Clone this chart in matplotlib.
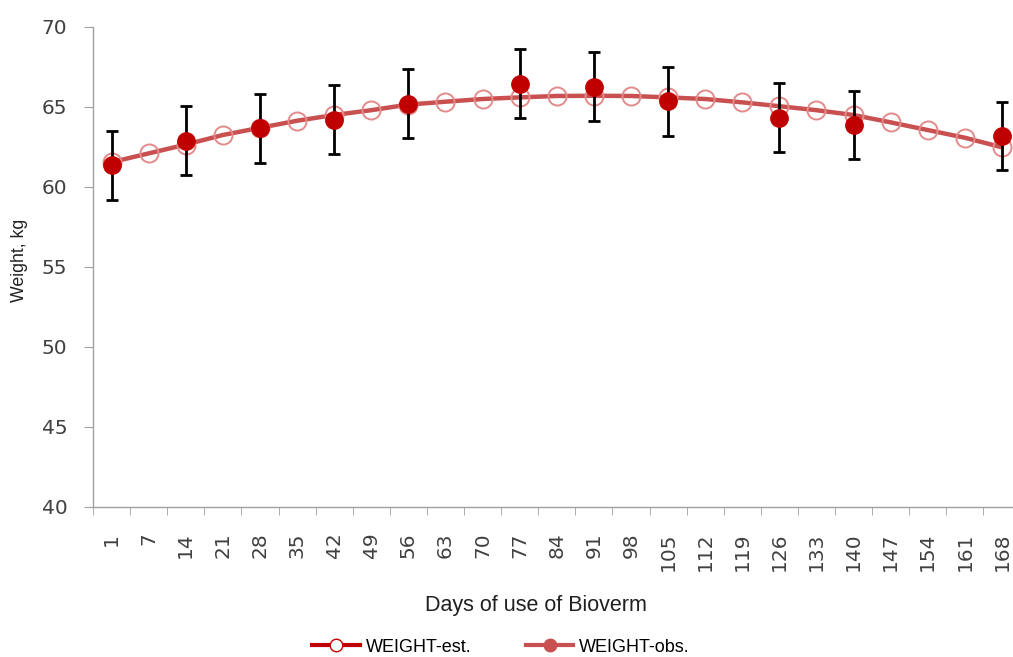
import numpy as np
import matplotlib.pyplot as plt
from matplotlib.lines import Line2D

# Дни и оценки
days = [1, 7, 14, 21, 28, 35, 42, 49, 56, 63, 70, 77, 84, 91, 98,
        105, 112, 119, 126, 133, 140, 147, 154, 161, 168]
weight_est = [61.55, 62.1, 62.65, 63.25, 63.7, 64.14, 64.5, 64.8, 65.15, 65.33,
              65.5, 65.6, 65.69, 65.7, 65.69, 65.6, 65.5, 65.29, 65.05, 64.8,
              64.5, 64.04, 63.56, 63.08, 62.48]

# Наблюдения
obs_days = [1, 14, 28, 42, 56, 77, 91, 105, 126, 140, 168]
weight_obs = [61.36, 62.9, 63.68, 64.2, 65.2, 66.45, 66.27, 65.36, 64.34, 63.88, 63.19]
obs_err = [2.15] * len(obs_days)

x = np.arange(len(days))
x_obs = [days.index(d) for d in obs_days]

fig = plt.figure(figsize=(10.13, 6.57), dpi=100)
ax = fig.add_axes([93 / 1013, 150 / 657, 927.5 / 1013, 480 / 657])

ax.plot(x, weight_est, color='#C85050', lw=3.2, zorder=2, solid_capstyle='round')
ax.plot(x, weight_est, 'o', ms=13, mfc='none', mec='#E38A8A', mew=1.4, zorder=3)
ax.errorbar(x_obs, weight_obs, yerr=obs_err, fmt='none', ecolor='black',
            elinewidth=2, capsize=4, capthick=2, zorder=4)
ax.plot(x_obs, weight_obs, 'o', ms=12.5, color='#C00000', zorder=5)

ax.set_xlim(-0.5, len(days) - 0.5)
ax.set_ylim(40, 70)
ax.set_yticks(range(40, 71, 5))
ax.set_xticks(x)
ax.set_xticklabels([str(d) for d in days], rotation=90, fontsize=14.5,
                   color='#404040', family='DejaVu Sans')
ax.set_xticks(np.arange(-0.5, len(days), 1), minor=True)
ax.tick_params(axis='x', which='major', length=0, pad=18.5)
ax.tick_params(axis='x', which='minor', length=6, color='#A0A0A0', direction='out')
ax.tick_params(axis='y', length=6.5, color='#A0A0A0', direction='out',
               labelsize=14.5, labelcolor='#404040', pad=12)
for lab in ax.get_yticklabels():
    lab.set_family('DejaVu Sans')

for s in ['top', 'right']:
    ax.spines[s].set_visible(False)
for s in ['left', 'bottom']:
    ax.spines[s].set_color('#A0A0A0')
    ax.spines[s].set_linewidth(1)

fig.text(19 / 1013, 1 - 260 / 657, 'Weight, kg', rotation=90, ha='center',
         va='center', fontsize=12.8, family='Liberation Sans', color='#202020')
fig.text(536 / 1013, 1 - 606 / 657, 'Days of use of Bioverm', ha='center',
         va='center', fontsize=15.5, family='Liberation Sans', color='#202020')

handles = [
    Line2D([], [], color='#C00000', lw=3, marker='o', ms=9, mfc='white',
           mec='#C00000', mew=1),
    Line2D([], [], color='#C85050', lw=3, marker='o', ms=9, mfc='#C85050',
           mec='#C85050'),
]
fig.legend(handles, ['WEIGHT-est.', 'WEIGHT-obs.'], loc='center', ncol=2,
           bbox_to_anchor=(501 / 1013, 1 - 647 / 657), frameon=False,
           prop={'family': 'Liberation Sans', 'size': 13},
           handlelength=2.65, columnspacing=3.0, handletextpad=0.33,
           borderpad=0)

fig.savefig('out.png', dpi=100)
